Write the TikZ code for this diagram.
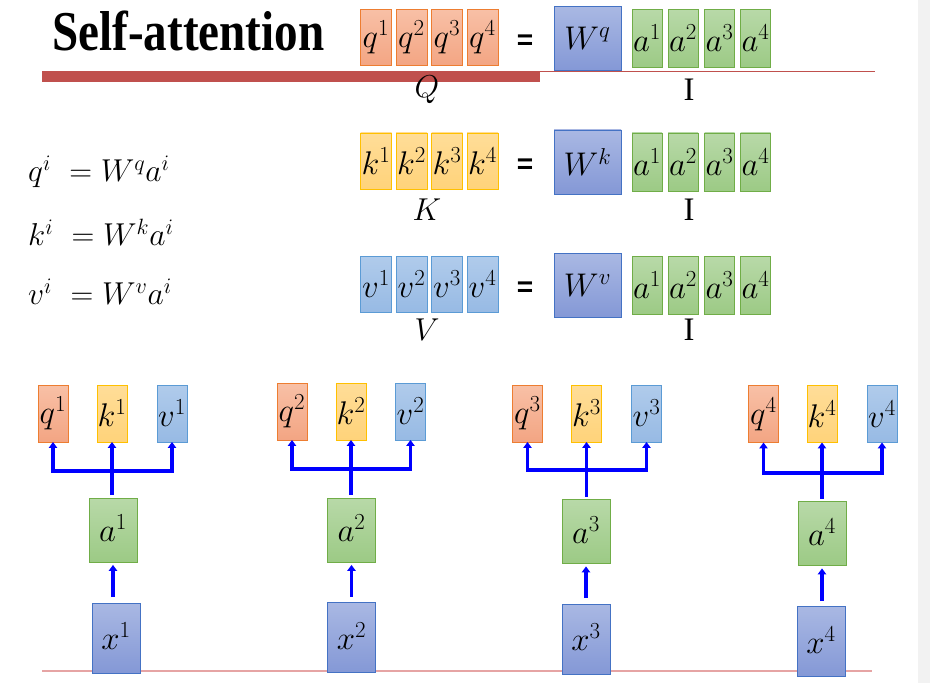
\RequirePackage{fix-cm}
\documentclass[tikz,border=0pt]{standalone}
\usepackage{amsmath,amssymb}
\usepackage{fontspec}
\usepackage{graphicx}
\usepackage{tikz}
\usepackage{xcolor}
\usetikzlibrary{arrows.meta}
\newfontfamily\titlefont{Liberation Serif}
\newfontfamily\eqfont{Liberation Sans}
\definecolor{qedge}{HTML}{ED7D31}\definecolor{qtop}{HTML}{F8C0A6}\definecolor{qbot}{HTML}{F3A583}
\definecolor{kedge}{HTML}{FFC000}\definecolor{ktop}{HTML}{FFDD98}\definecolor{kbot}{HTML}{FFD37A}
\definecolor{vedge}{HTML}{5B9BD5}\definecolor{vtop}{HTML}{B0CBEB}\definecolor{vbot}{HTML}{97BAE4}
\definecolor{wedge}{HTML}{4472C4}\definecolor{wtop}{HTML}{A9B8E3}\definecolor{wbot}{HTML}{8498D6}
\definecolor{aedge}{HTML}{70AD47}\definecolor{atop}{HTML}{B8D9A8}\definecolor{abot}{HTML}{9CCA85}
\definecolor{barred}{HTML}{C0504D}\definecolor{pinkline}{HTML}{E6A4A4}
\tikzset{
  cell/.style={inner sep=0pt,outer sep=0pt,line width=0.8pt,font=\fontsize{28}{30}\selectfont},
  qcell/.style={cell,draw=qedge,top color=qtop,bottom color=qbot},
  kcell/.style={cell,draw=kedge,top color=ktop,bottom color=kbot},
  vcell/.style={cell,draw=vedge,top color=vtop,bottom color=vbot},
  wcell/.style={cell,draw=wedge,top color=wtop,bottom color=wbot},
  acell/.style={cell,draw=aedge,top color=atop,bottom color=abot},
  vec/.style={minimum width=0.93cm,minimum height=1.68cm},
  avec/.style={minimum width=0.9cm,minimum height=1.74cm},
  wmat/.style={minimum width=2.01cm,minimum height=1.92cm},
  small/.style={minimum width=0.9cm,minimum height=1.71cm},
  big/.style={minimum width=1.44cm,minimum height=1.92cm},
  bigx/.style={minimum width=1.44cm,minimum height=2.1cm},
  lbl/.style={font=\fontsize{27}{29}\selectfont},
  link/.style={draw=blue,line width=2.7pt,line join=miter},
  tip/.tip={Triangle[width=7pt,length=5pt]}
}
\begin{document}
\begin{tikzpicture}[x=0.03cm,y=-0.03cm]
\useasboundingbox (0,0) rectangle (930,683);
\fill[gray!10] (918,0) rectangle (930,683);
% title and rule
\fill[barred] (42,71) rectangle (540,82);
\draw[barred,line width=0.8pt] (540,71) -- (875,71);
\node[anchor=base west,inner sep=0pt,font=\titlefont\bfseries\fontsize{40}{44}\selectfont] (title) at (52,51) {\scalebox{1.005}[1.2]{Self-attention}};
% matrix form
\foreach \r/\R/\y/\ly in {q/Q/37.5/90,k/K/161/210,v/V/284.5/330} {
  \foreach \xx/\j in {376/1,411.5/2,447/3,482.5/4}
    \node[\r cell,vec] (\R\j) at (\xx,\y) {$\r^{\j}$};
  \node[font=\eqfont\bfseries\fontsize{24}{26}\selectfont] (eq\r) at (525,\y+5) {=};
  \node[wcell,wmat] (W\r) at (587.5,\y+1) {$W^{\r}$};
  \foreach \xx/\j in {647/1,683/2,719.5/3,755.5/4}
    \node[acell,avec] (I\r\j) at (\xx,\y+1) {$a^{\j}$};
  \node[lbl] (lab\R) at (427,\ly) {$\R$};
  \node[lbl,font=\titlefont\fontsize{28}{30}\selectfont] (labI\r) at (689,\ly) {I};
}
% equations
\node[anchor=base west,lbl] (fq) at (24,182) {$q^i\ = W^q a^i$};
\node[anchor=base west,lbl] (fk) at (24,246) {$k^i\ = W^k a^i$};
\node[anchor=base west,lbl] (fv) at (24,305) {$v^i\ = W^v a^i$};
% per-input view
\draw[pinkline,line width=1.6pt] (42,671) -- (872,671);
\foreach \i/\qx/\kx/\vx/\ty/\by/\ax/\ay/\xx/\xy in {1/53/112/172/413.5/471/113/530/116/638,
    2/292/351/410.5/411.5/469/351.5/530/351.5/637.5,
    3/527.5/586.5/646.5/413.5/470/586/531.5/586/639,
    4/763.5/822/882/414/473/822/533.5/821/641.5} {
  \node[qcell,small] (q\i) at (\qx,\ty) {$q^{\i}$};
  \node[kcell,small] (k\i) at (\kx,\ty) {$k^{\i}$};
  \node[vcell,small] (v\i) at (\vx,\ty) {$v^{\i}$};
  \node[acell,big] (a\i) at (\ax,\ay) {\raisebox{3pt}{$a^{\i}$}};
  \node[wcell,bigx] (x\i) at (\xx,\xy) {\raisebox{3pt}{$x^{\i}$}};
  \coordinate (j\i) at (\kx,\by);
  \draw[link,tip-tip] (q\i.south) |- (j\i) -| (v\i.south);
  \draw[link,-tip] ([yshift=2.5pt]k\i.south |- a\i.north) -- (k\i.south);
  \draw[link,-tip] ([yshift=5pt]a\i.south |- x\i.north) -- ([yshift=-2.5pt]a\i.south);
}
\end{tikzpicture}
\end{document}
